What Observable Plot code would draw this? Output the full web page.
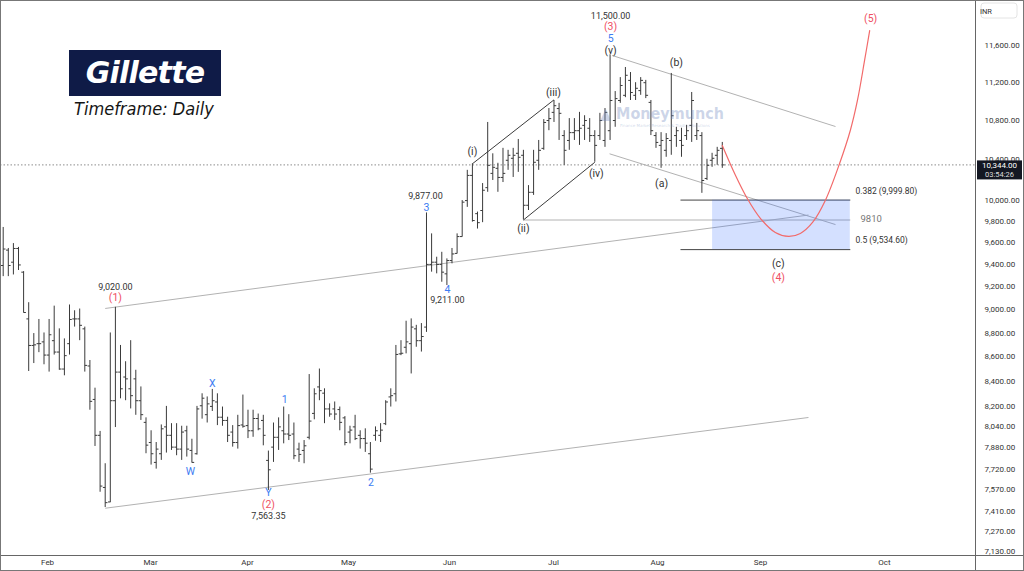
<!DOCTYPE html>
<html>
<head>
<meta charset="utf-8">
<script src="https://cdn.jsdelivr.net/npm/d3@7"></script>
<script src="https://cdn.jsdelivr.net/npm/@observablehq/plot@0.6"></script>
<style>
  html, body { margin:0; padding:0; background:#fff; }
  #wrap { position:relative; width:1024px; height:571px; overflow:hidden; }
  #wrap svg { display:block; }
  #logo { position:absolute; left:69px; top:50px; width:152px; height:46px; background:#0f1b47; }
  #logo span { position:absolute; left:0; right:0; top:0; text-align:center; line-height:46px; color:#fff;
    font-family:"DejaVu Sans"; font-weight:bold; font-style:italic; font-size:30px; letter-spacing:-0.8px; }
  #tf { position:absolute; left:74px; top:98px; font-family:"DejaVu Sans Condensed","DejaVu Sans";
    font-stretch:condensed; font-style:italic; font-size:18px; color:#151515; white-space:nowrap; }
  #wm { position:absolute; left:600px; top:104px; color:rgba(110,135,190,0.35); white-space:nowrap; }
  #wm b { font-family:"DejaVu Sans Condensed","DejaVu Sans"; font-stretch:condensed; font-size:16px; font-weight:bold; }
  #wm i { display:block; font-style:normal; font-family:"DejaVu Sans"; font-size:4px; margin-left:20px; }
</style>
</head>
<body>
<div id="wrap">
  <div id="chart"></div>
  <div id="logo"><span>Gillette</span></div>
  <div id="tf">Timeframe: Daily</div>
  <div id="wm"><b>&#9650; Moneymunch</b><i>Finance Market Research &amp; Trading Solutions</i></div>
</div>
<script>
// ---------- DATA (daily OHLC, INR) ----------
const opens = [9390,9530,9420,9545,9330,8920,8695,8710,8725,8615,
8735,8640,8500,8710,8920,8920,8835,8525,8255,7975,
7585,7480,8245,8475,8435,8340,8420,8245,8075,7920,
7770,7835,8040,7975,7885,7870,8010,7860,7835,8205,
8135,8200,8235,8115,8090,8000,7920,8055,8050,8010,
8105,8090,7785,7885,7960,8010,7985,7985,7870,7860,
7960,8145,8355,8305,8180,8180,8175,8110,8000,8040,
7975,7950,7835,7975,7975,8065,8275,8300,8625,8680,
8710,8835,8735,8850,9400,9420,9400,9315,9435,9500,
9655,9995,10240,9870,9900,10120,10260,10310,10220,10390,
10410,10460,10440,9950,10075,10390,10510,10795,10880,10920,
10640,10590,10670,10690,10745,10715,10640,10640,10590,10690,
10795,11005,11060,11220,11060,11110,11195,10985,10640,10540,
10490,10590,10640,10590,10640,10745,10640,10640,10210,10390,
10440,10510];
const highs = [9740,9545,9590,9555,9335,9060,8795,8915,8800,8915,
9030,8835,8750,9040,8990,9005,8850,8570,8345,8005,
7760,8800,9020,8695,8560,8735,8490,8355,8110,8010,
7920,8055,8200,8065,8065,8045,8045,7945,8200,8300,
8275,8335,8300,8195,8115,8050,8130,8290,8170,8170,
8140,8130,7855,8070,8110,8195,8135,8070,7915,7935,
8455,8340,8500,8340,8220,8235,8195,8120,8045,8130,
8010,8025,7920,8040,8065,8245,8340,8695,8735,8900,
8920,8865,8880,9877,9680,9465,9510,9450,9545,9680,
9995,10290,10355,9885,10160,10775,10455,10360,10510,10490,
10510,10600,10490,10140,10490,10590,10805,10920,11005,10975,
10690,10815,10815,10880,10845,10815,10690,10870,10920,11500,
11100,11250,11360,11305,11195,11250,11220,11005,10670,10670,
10660,11295,10725,10715,10745,11090,10765,10670,10400,10460,
10520,10570];
const lows = [9290,9290,9305,9345,8970,8480,8545,8635,8535,8475,
8615,8490,8445,8615,8850,8735,8475,8170,7890,7550,
7440,7475,8035,8260,8245,8180,8130,8090,7835,7750,
7720,7785,7840,7860,7820,7785,7810,7765,7825,8100,
8070,8160,8050,8045,7920,7885,7870,8030,7950,7960,
8010,7895,7563.35,7770,7860,7910,7935,7790,7770,7760,
7940,8095,8245,8065,8115,8090,8010,7895,7910,7935,
7870,7845,7690,7930,7920,8050,8195,8235,8610,8625,
8460,8680,8640,8805,9330,9315,9240,9211,9405,9495,
9650,9930,9790,9725,9785,10075,10190,10075,10170,10290,
10220,10270,9810,9900,10045,10290,10490,10690,10775,10590,
10340,10490,10590,10540,10590,10570,10370,10590,10520,10590,
10725,10975,11035,11005,11005,11060,11025,10640,10510,10310,
10420,10440,10520,10420,10590,10570,10590,10065,10190,10320,
10340,10310];
const closes = [9540,9390,9545,9395,8975,8695,8700,8710,8615,8785,
8640,8500,8610,8915,8920,8865,8530,8240,7975,7595,
7475,8245,8475,8340,8420,8285,8245,8135,7900,7835,
7870,8025,7975,7885,7870,8000,7870,7770,8180,8265,
8220,8245,8115,8090,7975,7920,8050,8045,8010,8105,
8025,7975,7715,7960,8040,7985,7975,7820,7830,7895,
8085,8300,8325,8180,8140,8140,8075,7920,8015,7950,
7950,7915,7720,8010,8015,8235,8285,8620,8630,8725,
8850,8735,8770,9400,9420,9400,9330,9435,9495,9655,
9980,10240,9805,9785,10095,10340,10320,10220,10260,10440,
10440,10420,9950,10075,10370,10490,10775,10815,10950,10870,
10490,10670,10690,10715,10795,10640,10540,10795,10880,11005,
11025,11165,11275,11090,11135,11220,11060,10690,10570,10590,
10610,10845,10690,10540,10690,11005,10690,10190,10340,10410,
10490,10344];

const lastPrice = 10344;
const lastTime = "03:54:26";

// month labels on the bar-index axis
const monthLabels = ["Feb","Mar","Apr","May","Jun","Jul","Aug","Sep","Oct"];
const monthIndex  = [8.7, 28.9, 47.9, 67.7, 87.5, 107.9, 128.3, 148.5, 172.8];

// price axis ticks
const priceTicks = [11600,11200,10800,10400,10000,9800,9600,9400,9200,9000,8800,8600,8400,8200,8040,7880,7720,7570,7410,7270,7130];

// trend / channel lines (bar index, price)
const channelLines = [
  {i1:20, p1:9010, i2:157.9, p2:9857},
  {i1:20, p1:7435, i2:157.9, p2:8113},
  {i1:119.4, p1:11492, i2:163.2, p2:10733},
  {i1:118.9, p1:10455, i2:163.2, p2:9767},
  {i1:102, p1:9810, i2:166.1, p2:9810}
];
const waveLines = [
  {i1:92, p1:10355, i2:108, p2:11012},
  {i1:102, p1:9810, i2:116, p2:10370}
];
const fibLevels = [
  {i1:132.8, i2:166.1, p:9999.8, text:"0.382 (9,999.80)", ti:167.1, tp:10083},
  {i1:132.8, i2:166.1, p:9534.6, text:"0.5 (9,534.60)", ti:167.1, tp:9619}
];
const fibZone = [{i1:139.1, i2:166.1, p1:9534.6, p2:9999.8}];
const levelNote = [{i:168.1, p:9824, text:"9810"}];

// projected path of wave (4) and (5)
const projection = [
  {i:141.0, p:10539},{i:143.6, p:10239},{i:145.9, p:10015},{i:148.5, p:9824},
  {i:151.4, p:9693},{i:154.0, p:9656},{i:156.3, p:9684},{i:158.7, p:9787},
  {i:161.2, p:9996},{i:164.0, p:10358},{i:166.1, p:10692},{i:167.5, p:11005},
  {i:168.9, p:11437},{i:169.9, p:11771}
];

// wave labels (bar index, price)
const priceNotes = [
  {i:22.0, p:9194, text:"9,020.00"},
  {i:52.0, p:7376, text:"7,563.35"},
  {i:82.8, p:10034, text:"9,877.00"},
  {i:87.1, p:9079, text:"9,211.00"},
  {i:119.1, p:11931, text:"11,500.00"}
];
const minorWaves = [
  {i:36.7, p:7702, text:"W"},{i:41.0, p:8383, text:"X"},{i:52.0, p:7548, text:"Y"},
  {i:55.2, p:8255, text:"1"},{i:72.1, p:7621, text:"2"},{i:83.0, p:9929, text:"3"},
  {i:87.1, p:9176, text:"4"},{i:119.1, p:11676, text:"5"}
];
const primaryWaves = [
  {i:22.0, p:9106, text:"(1)"},{i:52.0, p:7462, text:"(2)"},{i:119.1, p:11811, text:"(3)"},
  {i:152.0, p:9282, text:"(4)"},{i:170.1, p:11908, text:"(5)"}
];
const subWaves = [
  {i:92.0, p:10478, text:"(i)"},{i:102.0, p:9730, text:"(ii)"},{i:107.9, p:11090, text:"(iii)"},
  {i:116.3, p:10259, text:"(iv)"},{i:119.1, p:11546, text:"(v)"},{i:129.1, p:10161, text:"(a)"},
  {i:132.0, p:11415, text:"(b)"},{i:152.0, p:9408, text:"(c)"}
];

// ---------- CHART ----------
const bars = opens.map((o, k) => ({i: k, o, h: highs[k], l: lows[k], c: closes[k]}));
const barColor = "#3a3a3a";
const font = "Roboto, 'Liberation Sans', sans-serif";

const chart = Plot.plot({
  width: 1024, height: 571,
  marginLeft: 0, marginRight: 49, marginTop: 0, marginBottom: 16,
  x: {type: "linear", domain: [-0.53, 190.65], axis: null},
  y: {type: "log", domain: [7104.5, 12116], axis: null},
  style: {fontFamily: font, background: "#fff", overflow: "visible"},
  marks: [
    Plot.ruleY([lastPrice], {stroke: "#8c8c8c", strokeDasharray: "1.5,2"}),
    Plot.link(channelLines, {x1: "i1", y1: "p1", x2: "i2", y2: "p2", stroke: "#b2b2b2", strokeWidth: 1}),
    Plot.link(fibLevels, {x1: "i1", x2: "i2", y1: "p", y2: "p", stroke: "#444", strokeWidth: 1}),
    Plot.rect(fibZone, {x1: "i1", x2: "i2", y1: "p1", y2: "p2", fill: "#2962ff", fillOpacity: 0.2}),
    Plot.link(waveLines, {x1: "i1", y1: "p1", x2: "i2", y2: "p2", stroke: "#3c3c3c", strokeWidth: 1}),
    Plot.ruleX(bars, {x: "i", y1: "l", y2: "h", stroke: barColor, strokeWidth: 1}),
    Plot.link(bars, {x1: d => d.i - 0.45, x2: "i", y1: "o", y2: "o", stroke: barColor}),
    Plot.link(bars, {x1: "i", x2: d => d.i + 0.45, y1: "c", y2: "c", stroke: barColor}),
    Plot.line(projection, {x: "i", y: "p", curve: "catmull-rom", stroke: "#f26a6a", strokeWidth: 1.2}),
    Plot.text(priceNotes, {x: "i", y: "p", text: "text", fill: "#333", fontSize: 9}),
    Plot.text(minorWaves, {x: "i", y: "p", text: "text", fill: "#3d7cf2", fontSize: 10.5}),
    Plot.text(primaryWaves, {x: "i", y: "p", text: "text", fill: "#ef4f63", fontSize: 10.5}),
    Plot.text(subWaves, {x: "i", y: "p", text: "text", fill: "#333", fontSize: 10.5}),
    Plot.text(fibLevels, {x: "ti", y: "tp", text: "text", fill: "#333", fontSize: 8.5, textAnchor: "start"}),
    Plot.text(levelNote, {x: "i", y: "p", text: "text", fill: "#777", fontSize: 9.5, textAnchor: "start"}),
    Plot.axisY({anchor: "right", ticks: priceTicks, tickSize: 0, tickPadding: 9,
      tickFormat: d3.format(",.2f"), fontSize: 8, fill: "#333"}),
    Plot.axisX({ticks: monthIndex, tickSize: 0, tickPadding: 4,
      tickFormat: d => monthLabels[monthIndex.indexOf(d)], fontSize: 8, fill: "#333"}),
    Plot.frame({stroke: "#666"})
  ]
});
document.getElementById("chart").appendChild(chart);

// price-axis decorations, placed through the chart's own y scale
const svg = d3.select(chart);
const yLast = chart.scale("y").apply(lastPrice);
svg.append("line").attr("x1", 975.5).attr("x2", 975.5).attr("y1", 0).attr("y2", 571).attr("stroke", "#666");
svg.append("line").attr("x1", 0).attr("x2", 1024).attr("y1", 555.5).attr("y2", 555.5).attr("stroke", "#666");
svg.append("rect").attr("x", 0.5).attr("y", 0.5).attr("width", 1023).attr("height", 570)
   .attr("fill", "none").attr("stroke", "#777");
const tag = svg.append("g");
tag.append("rect").attr("x", 977).attr("y", yLast - 4).attr("width", 45).attr("height", 19).attr("fill", "#131722");
tag.append("text").attr("x", 999.5).attr("y", yLast + 4).attr("text-anchor", "middle")
   .attr("font-size", 8).attr("font-family", font).attr("fill", "#fff").text(d3.format(",.2f")(lastPrice));
tag.append("text").attr("x", 999.5).attr("y", yLast + 12.5).attr("text-anchor", "middle")
   .attr("font-size", 7.5).attr("font-family", font).attr("fill", "#ddd").text(lastTime);
const inr = svg.append("g");
inr.append("rect").attr("x", 981).attr("y", 3).attr("width", 36).attr("height", 15).attr("rx", 3)
   .attr("fill", "#fff").attr("stroke", "#e4e4e4");
inr.append("text").attr("x", 986).attr("y", 13.5).attr("font-size", 7.5).attr("font-family", font)
   .attr("fill", "#333").text("INR");
</script>
</body>
</html>
